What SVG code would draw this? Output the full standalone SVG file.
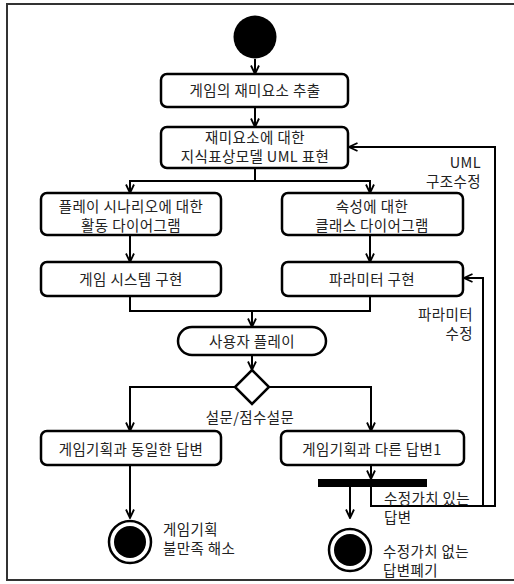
<svg xmlns="http://www.w3.org/2000/svg" width="514" height="584" viewBox="0 0 514 584">
<style>
.box{fill:#fff;stroke:#000;stroke-width:2.5}
.ln{fill:none;stroke:#000;stroke-width:2}
.t{font-family:"Noto Sans CJK KR","Noto Sans",sans-serif;font-size:14.5px;fill:#222;letter-spacing:0.4px}
.c{text-anchor:middle}
.r{text-anchor:end}
</style>
<defs>
<marker id="ah" viewBox="0 0 10 10" refX="9.5" refY="5" markerWidth="10" markerHeight="10" markerUnits="userSpaceOnUse" orient="auto">
<path d="M1,1 L9.5,5 L1,9" fill="none" stroke="#000" stroke-width="1.8"/>
</marker>
</defs>
<rect x="0" y="0" width="514" height="584" fill="#fff"/>
<rect x="7" y="4" width="530" height="576" fill="none" stroke="#333" stroke-width="2"/>

<g id="connectors">
<path class="ln" d="M255,59 V74" marker-end="url(#ah)"/>
<path class="ln" d="M255,107 V127" marker-end="url(#ah)"/>
<path class="ln" d="M255,168 V181"/>
<path class="ln" d="M130,181 H370"/>
<path class="ln" d="M130,180 V193" marker-end="url(#ah)"/>
<path class="ln" d="M370,180 V193" marker-end="url(#ah)"/>
<path class="ln" d="M130,235 V262" marker-end="url(#ah)"/>
<path class="ln" d="M370,235 V262" marker-end="url(#ah)"/>
<path class="ln" d="M130,296 V311 H370 V296"/>
<path class="ln" d="M252,311 V327" marker-end="url(#ah)"/>
<path class="ln" d="M252,355 V370" marker-end="url(#ah)"/>
<path class="ln" d="M235,387 H130 V431" marker-end="url(#ah)"/>
<path class="ln" d="M269,387 H371 V431" marker-end="url(#ah)"/>
<path class="ln" d="M371,465 V479" marker-end="url(#ah)"/>
<path class="ln" d="M350,487 V518" marker-end="url(#ah)"/>
<path class="ln" d="M130,465 V518" marker-end="url(#ah)"/>
<path class="ln" d="M371,487 V506 H495 V147 H349" marker-end="url(#ah)"/>
<path class="ln" d="M483,506 V278 H464" marker-end="url(#ah)"/>
<text class="t r" x="481" y="168">UML</text>
<text class="t r" x="481" y="187">구조수정</text>
<text class="t r" x="473" y="319.5">파라미터</text>
<text class="t r" x="473" y="338.5">수정</text>
<text class="t c" x="250" y="423">설문/점수설문</text>
<text class="t" x="384" y="503.5">수정가치 있는</text>
<text class="t" x="384" y="522.5">답변</text>
</g>

<g id="start"><circle cx="255" cy="37" r="21.5" fill="#000"/></g>

<g id="n1"><rect class="box" x="161" y="74" width="187" height="33" rx="6"/>
<text class="t c" x="255" y="96">게임의 재미요소 추출</text></g>

<g id="n2"><rect class="box" x="161" y="127" width="187" height="41" rx="6"/>
<text class="t c" x="255" y="142.5">재미요소에 대한</text>
<text class="t c" x="255" y="161.5">지식표상모델 UML 표현</text></g>

<g id="n3"><rect class="box" x="41" y="193" width="180" height="42" rx="6"/>
<text class="t c" x="131" y="212">플레이 시나리오에 대한</text>
<text class="t c" x="131" y="231">활동 다이어그램</text></g>

<g id="n4"><rect class="box" x="282" y="193" width="181" height="42" rx="6"/>
<text class="t c" x="372" y="212">속성에 대한</text>
<text class="t c" x="372" y="231">클래스 다이어그램</text></g>

<g id="n5"><rect class="box" x="41" y="262" width="180" height="34" rx="6"/>
<text class="t c" x="131" y="285">게임 시스템 구현</text></g>

<g id="n6"><rect class="box" x="282" y="262" width="181" height="34" rx="6"/>
<text class="t c" x="372" y="285">파라미터 구현</text></g>

<g id="n7"><rect class="box" x="178" y="327" width="148" height="28" rx="14"/>
<text class="t c" x="252" y="347">사용자 플레이</text></g>

<g id="decision"><polygon class="box" points="252,370 269,387 252,404 235,387"/></g>

<g id="n8"><rect class="box" x="41" y="431" width="180" height="34" rx="6"/>
<text class="t c" x="131" y="455">게임기획과 동일한 답변</text></g>

<g id="n9"><rect class="box" x="281" y="431" width="183" height="34" rx="6"/>
<text class="t c" x="372" y="455">게임기획과 다른 답변1</text></g>

<g id="fork"><rect x="318" y="479" width="109" height="8" fill="#000"/></g>

<g id="end1"><circle cx="130" cy="542" r="21" fill="#fff" stroke="#000" stroke-width="2.5"/>
<circle cx="130" cy="542" r="16" fill="#000"/>
<text class="t" x="163" y="535">게임기획</text>
<text class="t" x="163" y="554">불만족 해소</text></g>

<g id="end2"><circle cx="350" cy="550" r="21" fill="#fff" stroke="#000" stroke-width="2.5"/>
<circle cx="350" cy="550" r="16" fill="#000"/>
<text class="t" x="383" y="557">수정가치 없는</text>
<text class="t" x="383" y="576">답변폐기</text></g>
</svg>
